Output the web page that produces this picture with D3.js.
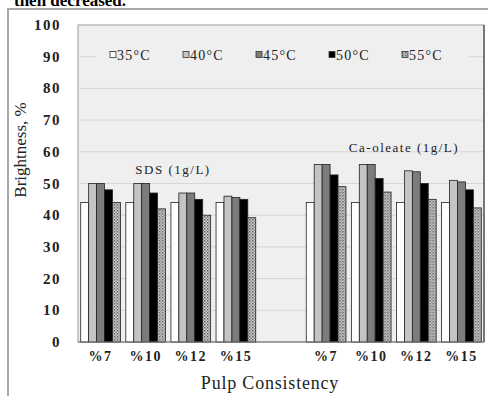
<!DOCTYPE html>
<html>
<head>
<meta charset="utf-8">
<script src="https://cdn.jsdelivr.net/npm/d3@7"></script>
<style>
  body { margin: 0; background: #fff; }
  text { font-family: "Liberation Serif", "DejaVu Serif", serif; }
</style>
</head>
<body>
<svg width="488" height="396"></svg>
<script>
var consistencies = ["%7", "%10", "%12", "%15"];
var surfactants = ["SDS (1g/L)", "Ca-oleate (1g/L)"];
var temps = ["35°C", "40°C", "45°C", "50°C", "55°C"];
var yTicks = [0, 10, 20, 30, 40, 50, 60, 70, 80, 90, 100];

// brightness %, one row per consistency, one value per temperature
var sdsValues = [
  [44, 50, 50, 48, 44],
  [44, 50, 50, 47, 42],
  [44, 47, 47, 45, 40],
  [44, 46, 45.6, 45, 39.2]
];
var caValues = [
  [44, 56, 56, 52.7, 49],
  [44, 56, 56, 51.6, 47.3],
  [44, 54, 53.7, 50, 45],
  [44, 51, 50.5, 48, 42.3]
];

var svg = d3.select("svg"),
    plot = {left: 78, right: 484, top: 25, bottom: 342};

// slots: 4 SDS groups, one empty slot, 4 Ca-oleate groups
var slots = consistencies.map(function(c) { return "s" + c; })
    .concat(["gap"])
    .concat(consistencies.map(function(c) { return "c" + c; }));

var groups = [];
sdsValues.forEach(function(v, i) { groups.push({key: "s" + consistencies[i], label: consistencies[i], values: v}); });
caValues.forEach(function(v, i) { groups.push({key: "c" + consistencies[i], label: consistencies[i], values: v}); });

var x0 = d3.scaleBand().domain(slots).range([plot.left, plot.right])
    .paddingInner(0.12).paddingOuter(0.06);
var x1 = d3.scaleBand().domain(temps).range([0, x0.bandwidth()]);
var y = d3.scaleLinear().domain([0, 100]).range([plot.bottom, plot.top]);

var defs = svg.append("defs");
var pat = defs.append("pattern").attr("id", "dots")
    .attr("width", 3).attr("height", 3).attr("patternUnits", "userSpaceOnUse");
pat.append("rect").attr("width", 3).attr("height", 3).attr("fill", "#d8d8d8");
pat.append("rect").attr("width", 1.5).attr("height", 1.5).attr("fill", "#555");
pat.append("rect").attr("x", 1.5).attr("y", 1.5).attr("width", 1.5).attr("height", 1.5).attr("fill", "#888");

var fills = {"35°C": "#ffffff", "40°C": "#c4c4c4", "45°C": "#7c7c7c", "50°C": "#000000", "55°C": "url(#dots)"};

// caption line above the figure, cut off as in the source
svg.append("text").attr("x", 14).attr("y", 6)
    .style("font-size", "17px").style("font-weight", "bold").text("then decreased.");

// outer frame
svg.append("rect").attr("x", 8).attr("y", 9).attr("width", 490).attr("height", 400)
    .attr("fill", "#fff").attr("stroke", "#a8a8a8").attr("stroke-width", 2);

// plot area
svg.append("rect").attr("x", plot.left).attr("y", plot.top)
    .attr("width", plot.right - plot.left).attr("height", plot.bottom - plot.top)
    .attr("fill", "#efefef").attr("stroke", "#9a9a9a");

svg.append("g").selectAll("line").data(yTicks.slice(1, -1)).enter().append("line")
    .attr("x1", plot.left).attr("x2", plot.right)
    .attr("y1", function(d) { return y(d); }).attr("y2", function(d) { return y(d); })
    .attr("stroke", "#d6d6d6");

svg.append("line").attr("x1", plot.right).attr("x2", plot.right)
    .attr("y1", plot.top).attr("y2", plot.bottom).attr("stroke", "#777").attr("stroke-width", 2);

// y axis labels
svg.append("g").selectAll("text").data(yTicks).enter().append("text")
    .attr("x", 61).attr("y", function(d) { return y(d) + 5; })
    .attr("text-anchor", "end").style("font-size", "15px").style("font-weight", "bold")
    .style("letter-spacing", "1.5px").attr("fill", "#222").text(function(d) { return d; });

svg.append("text").attr("transform", "translate(26,150) rotate(-90)")
    .attr("text-anchor", "middle").style("font-size", "17px").attr("fill", "#222")
    .text("Brightness, %");

// legend
var legend = svg.append("g");
legend.append("rect").attr("x", 96).attr("y", 44).attr("width", 372).attr("height", 22).attr("fill", "#efefef");
var li = legend.selectAll("g").data(temps).enter().append("g")
    .attr("transform", function(d, i) { return "translate(" + (110 + i * 73) + ",55)"; });
li.append("rect").attr("x", 0).attr("y", -3.5).attr("width", 6).attr("height", 6)
    .attr("fill", function(d) { return fills[d]; }).attr("stroke", "#333").attr("stroke-width", 0.8);
li.append("text").attr("x", 7).attr("y", 5).style("font-size", "14px")
    .style("letter-spacing", "1.2px").attr("fill", "#222")
    .text(function(d) { return d; });

// surfactant labels
svg.append("text").attr("x", 173).attr("y", 174).attr("text-anchor", "middle")
    .style("font-size", "13px").style("letter-spacing", "1.5px").attr("fill", "#222").text(surfactants[0]);
svg.append("text").attr("x", 404).attr("y", 152).attr("text-anchor", "middle")
    .style("font-size", "13px").style("letter-spacing", "1.5px").attr("fill", "#222").text(surfactants[1]);

// bars
var g = svg.append("g").selectAll("g").data(groups).enter().append("g")
    .attr("transform", function(d) { return "translate(" + x0(d.key) + ",0)"; });
g.selectAll("rect").data(function(d) { return d.values.map(function(v, i) { return {t: temps[i], v: v}; }); })
  .enter().append("rect")
    .attr("x", function(d) { return x1(d.t); })
    .attr("y", function(d) { return y(d.v); })
    .attr("width", x1.bandwidth())
    .attr("height", function(d) { return y(0) - y(d.v); })
    .attr("fill", function(d) { return fills[d.t]; })
    .attr("stroke", "#222").attr("stroke-width", 0.8);

svg.append("line").attr("x1", plot.left).attr("x2", plot.right)
    .attr("y1", plot.bottom).attr("y2", plot.bottom).attr("stroke", "#777");

// x labels
svg.append("g").selectAll("text").data(groups).enter().append("text")
    .attr("x", function(d) { return x0(d.key) + x0.bandwidth() / 2; })
    .attr("y", 361).attr("text-anchor", "middle")
    .style("font-size", "14px").style("font-weight", "bold").style("letter-spacing", "1.5px")
    .attr("fill", "#222")
    .text(function(d) { return d.label; });

svg.append("text").attr("x", 270).attr("y", 389).attr("text-anchor", "middle")
    .style("font-size", "18px").style("letter-spacing", "0.8px").attr("fill", "#222")
    .text("Pulp Consistency");
</script>
</body>
</html>
